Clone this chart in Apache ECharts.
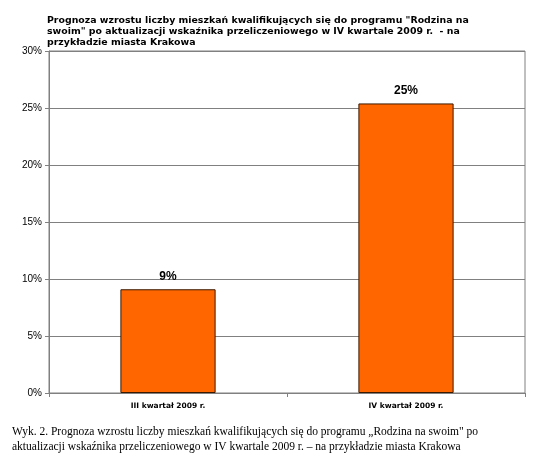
<!DOCTYPE html>
<html>
<head>
<meta charset="utf-8">
<script src="https://cdn.jsdelivr.net/npm/echarts@6/dist/echarts.min.js"></script>
<style>
  html, body { margin: 0; padding: 0; background: #fff; }
  #chart { width: 550px; height: 461px; }
</style>
</head>
<body>
<div id="chart"></div>
<script>
var categories = ["III kwartał 2009 r.", "IV kwartał 2009 r."];
var values = [9.1, 25.4];
var yTicks = [0, 5, 10, 15, 20, 25, 30];

var chart = echarts.init(document.getElementById("chart"));

var option = {
  backgroundColor: "#fff",
  animation: false,
  title: [
    {
      text: "Prognoza wzrostu liczby mieszkań kwalifikujących się do programu \"Rodzina na\nswoim\" po aktualizacji wskaźnika przeliczeniowego w IV kwartale 2009 r.  - na\nprzykładzie miasta Krakowa",
      left: 42,
      top: 10,
      textStyle: {
        fontFamily: "DejaVu Sans",
        fontWeight: "bold",
        fontSize: 9.4,
        lineHeight: 11,
        color: "#000",
      },
    },
    {
      text: "Wyk. 2. Prognoza wzrostu liczby mieszkań kwalifikujących się do programu „Rodzina na swoim\" po\naktualizacji wskaźnika przeliczeniowego w IV kwartale 2009 r. – na przykładzie miasta Krakowa",
      left: 7,
      top: 419,
      textStyle: {
        fontFamily: "Liberation Serif",
        fontWeight: "normal",
        fontSize: 11.5,
        lineHeight: 15,
        color: "#000",
      },
    },
  ],
  grid: {
    left: 49,
    right: 25,
    top: 51,
    bottom: 68,
    show: true,
    borderColor: "#808080",
    borderWidth: 1,
  },
  xAxis: {
    type: "category",
    data: categories,
    axisLine: { lineStyle: { color: "#808080" } },
    axisTick: { show: true, length: 4, lineStyle: { color: "#808080" } },
    axisLabel: {
      fontFamily: "DejaVu Sans",
      fontWeight: "bold",
      fontSize: 7.5,
      color: "#000",
      margin: 9,
    },
  },
  yAxis: {
    type: "value",
    min: yTicks[0],
    max: yTicks[yTicks.length - 1],
    interval: 5,
    axisLine: { show: true, lineStyle: { color: "#808080" } },
    axisTick: { show: true, length: 4, lineStyle: { color: "#808080" } },
    axisLabel: {
      formatter: "{value}%",
      fontFamily: "Liberation Sans",
      fontSize: 10,
      color: "#000",
      margin: 7,
    },
    splitLine: { lineStyle: { color: "#808080", width: 1 } },
  },
  series: [
    {
      type: "bar",
      data: values,
      barWidth: "40%",
      itemStyle: { color: "#FF6600", borderColor: "#3a1a00", borderWidth: 1 },
      label: {
        show: true,
        position: "top",
        distance: 7,
        formatter: function (p) { return Math.round(p.value) + "%"; },
        fontFamily: "Liberation Sans",
        fontWeight: "bold",
        fontSize: 12,
        color: "#000",
      },
    },
  ],
};

chart.setOption(option);
</script>
</body>
</html>
